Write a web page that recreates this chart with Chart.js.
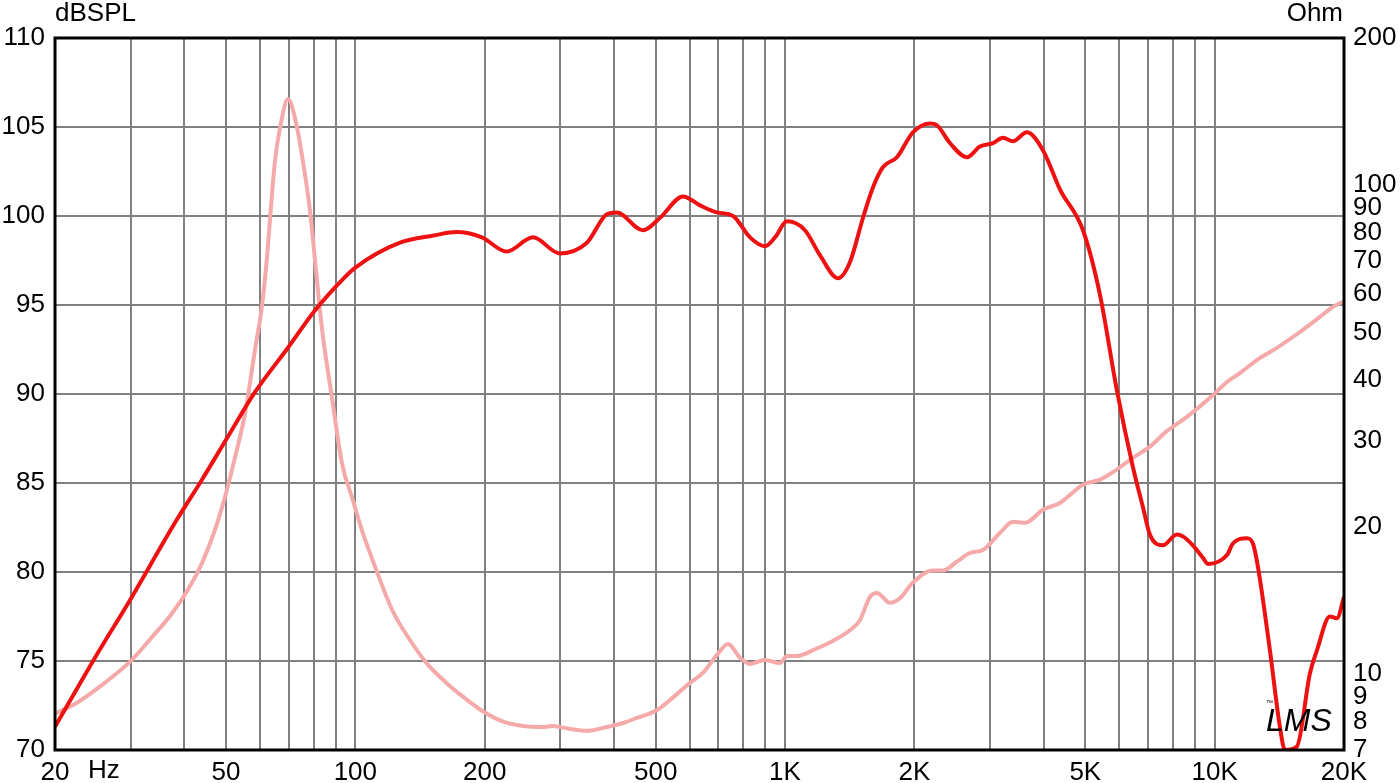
<!DOCTYPE html>
<html>
<head>
<meta charset="utf-8">
<script src="https://cdn.jsdelivr.net/npm/chart.js@4"></script>
<style>
  body { margin: 0; background: #fff; }
  #wrap { width: 1400px; height: 783px; }
</style>
</head>
<body>
<div id="wrap"><canvas id="fr" width="1400" height="783"></canvas></div>
<script>
// SPL response (dB)
const splFreq = [20, 24.8, 30.2, 38, 44, 50.5, 58.4, 69.7, 80.6, 93.1, 100, 127, 152, 172, 197, 225, 259, 299, 346, 385, 406, 467, 512, 579, 634, 694, 757, 829, 898, 948, 1011, 1113, 1206, 1328, 1416, 1519, 1602, 1691, 1822, 1985, 2175, 2258, 2420, 2652, 2842, 3048, 3216, 3392, 3656, 3984, 4364, 4938, 5406, 5922, 6452, 6808, 7068, 7576, 8166, 8436, 8898, 9390, 9646, 10682, 11028, 11886, 12276, 12608, 13446, 14186, 14574, 15540, 16660, 17300, 18540, 19254, 20000];
const splDb = [71.3, 75.2, 78.6, 82.75, 85.2, 87.6, 90.1, 92.6, 94.7, 96.4, 97.1, 98.5, 98.9, 99.1, 98.8, 98.0, 98.8, 97.9, 98.5, 100.1, 100.2, 99.2, 99.9, 101.1, 100.6, 100.2, 100.0, 98.8, 98.3, 98.8, 99.7, 99.2, 97.8, 96.5, 97.4, 99.9, 101.6, 102.75, 103.3, 104.7, 105.2, 105.1, 104.1, 103.3, 103.9, 104.1, 104.4, 104.2, 104.7, 103.7, 101.5, 99.2, 95.6, 90.2, 85.9, 83.65, 82.1, 81.5, 82.1, 82.0, 81.5, 80.8, 80.45, 80.95, 81.6, 81.9, 81.6, 80.3, 75.6, 71.3, 70.0, 70.2, 74.3, 75.6, 77.5, 77.4, 78.6];

// Impedance (Ohm)
const impFreq = [20, 22.3, 26.1, 30.2, 33.6, 37.4, 40.8, 44, 47.1, 49.7, 52.5, 55.4, 58.4, 60.6, 62, 65, 66.8, 69.7, 73.2, 75.5, 78.4, 80.6, 83.7, 88.2, 93.1, 98.7, 104, 112, 122, 134, 147, 163, 178, 198, 221, 246, 273, 288, 316, 346, 385, 420, 452, 504, 540, 601, 644, 694, 737, 786, 829, 898, 973, 1011, 1066, 1187, 1293, 1416, 1494, 1577, 1637, 1755, 1851, 1985, 2210, 2332, 2514, 2694, 2888, 3164, 3392, 3618, 3984, 4364, 4938, 5406, 5798, 6454, 7068, 7698, 8618, 9906, 10682, 11450, 12540, 13966, 15788, 17580, 18848, 20000];
const impOhm = [8.3, 8.7, 9.6, 10.7, 11.9, 13.3, 14.9, 16.9, 19.7, 23.0, 27.8, 34.2, 46, 56.4, 68, 112, 131, 150, 131, 112, 89, 70, 50.6, 36.9, 27.0, 22.7, 19.5, 16.3, 13.5, 11.75, 10.5, 9.6, 9.0, 8.4, 8.0, 7.84, 7.8, 7.84, 7.73, 7.66, 7.8, 7.95, 8.14, 8.45, 8.86, 9.6, 10.06, 10.95, 11.53, 10.8, 10.5, 10.7, 10.54, 10.9, 10.9, 11.3, 11.7, 12.3, 12.9, 14.4, 14.66, 14.0, 14.3, 15.4, 16.3, 16.3, 17.0, 17.7, 17.95, 19.45, 20.5, 20.4, 21.7, 22.4, 24.4, 25.0, 25.9, 27.7, 29.2, 31.3, 33.6, 37.2, 39.6, 41.3, 43.9, 46.5, 50.1, 53.8, 56.4, 57.9];

// axis ticks
const xGridValues = [20, 30, 40, 50, 60, 70, 80, 90, 100, 200, 300, 400, 500, 600, 700, 800, 900, 1000, 2000, 3000, 4000, 5000, 6000, 7000, 8000, 9000, 10000, 20000];
const xLabelValues = [20, 50, 100, 200, 500, 1000, 2000, 5000, 10000, 20000];
const xLabelTexts = ['20', '50', '100', '200', '500', '1K', '2K', '5K', '10K', '20K'];
const ohmTicks = [7, 8, 9, 10, 20, 30, 40, 50, 60, 70, 80, 90, 100, 200];

const FONT = "'Liberation Sans', Arial, sans-serif";
const FSIZE = 26;

// titles, border and logo
const decor = {
    id: 'decor',
    afterDraw(chart) {
        const ctx = chart.ctx;
        const a = chart.chartArea;
        ctx.save();
        ctx.strokeStyle = '#000';
        ctx.lineWidth = 3;
        ctx.strokeRect(a.left, a.top, a.right - a.left, a.bottom - a.top);

        ctx.fillStyle = '#000';
        ctx.font = FSIZE + 'px ' + FONT;
        ctx.textBaseline = 'middle';
        ctx.textAlign = 'left';
        ctx.fillText('dBSPL', 55, 14);
        ctx.fillText('Hz', 88, a.bottom + 21);
        ctx.textAlign = 'right';
        ctx.fillText('Ohm', 1343, 14);

        ctx.font = 'italic 32px ' + FONT;
        ctx.textAlign = 'left';
        ctx.fillText('LMS', 1266, 722);
        ctx.font = '7px ' + FONT;
        ctx.fillText('™', 1266, 703);
        ctx.restore();
    }
};

const ctx = document.getElementById('fr').getContext('2d');
new Chart(ctx, {
    type: 'line',
    data: {
        datasets: [{
            label: 'SPL',
            data: splFreq.map((f, i) => ({ x: f, y: splDb[i] })),
            yAxisID: 'y',
            borderColor: '#ee1111',
            borderWidth: 4,
            pointRadius: 0,
            cubicInterpolationMode: 'monotone'
        }, {
            label: 'Impedance',
            data: impFreq.map((f, i) => ({ x: f, y: impOhm[i] })),
            yAxisID: 'y2',
            borderColor: '#f5a9a9',
            borderWidth: 4,
            pointRadius: 0,
            cubicInterpolationMode: 'monotone'
        }]
    },
    options: {
        responsive: false,
        animation: false,
        layout: { padding: { top: 38, left: 0, right: 0, bottom: 0 } },
        plugins: { legend: { display: false }, tooltip: { enabled: false } },
        scales: {
            x: {
                type: 'logarithmic',
                min: 20,
                max: 20000,
                afterBuildTicks: s => { s.ticks = xGridValues.map(v => ({ value: v })); },
                afterFit: s => { s.height = 33; },
                grid: { color: '#808080', lineWidth: 2, drawTicks: false },
                border: { display: false },
                ticks: {
                    autoSkip: false,
                    maxRotation: 0,
                    padding: 7,
                    color: '#000',
                    font: { family: FONT, size: FSIZE },
                    callback: v => {
                        const i = xLabelValues.indexOf(v);
                        return i >= 0 ? xLabelTexts[i] : '';
                    }
                }
            },
            y: {
                position: 'left',
                min: 70,
                max: 110,
                afterFit: s => { s.width = 55; },
                grid: { color: '#808080', lineWidth: 2, drawTicks: false },
                border: { display: false },
                ticks: {
                    stepSize: 5,
                    padding: 10,
                    color: '#000',
                    font: { family: FONT, size: FSIZE }
                }
            },
            y2: {
                type: 'logarithmic',
                position: 'right',
                min: 7,
                max: 200,
                afterBuildTicks: s => { s.ticks = ohmTicks.map(v => ({ value: v })); },
                afterFit: s => { s.width = 56; },
                grid: { display: false, drawTicks: false },
                border: { display: false },
                ticks: {
                    autoSkip: false,
                    padding: 9,
                    color: '#000',
                    font: { family: FONT, size: FSIZE },
                    callback: v => String(v)
                }
            }
        }
    },
    plugins: [decor]
});
</script>
</body>
</html>
